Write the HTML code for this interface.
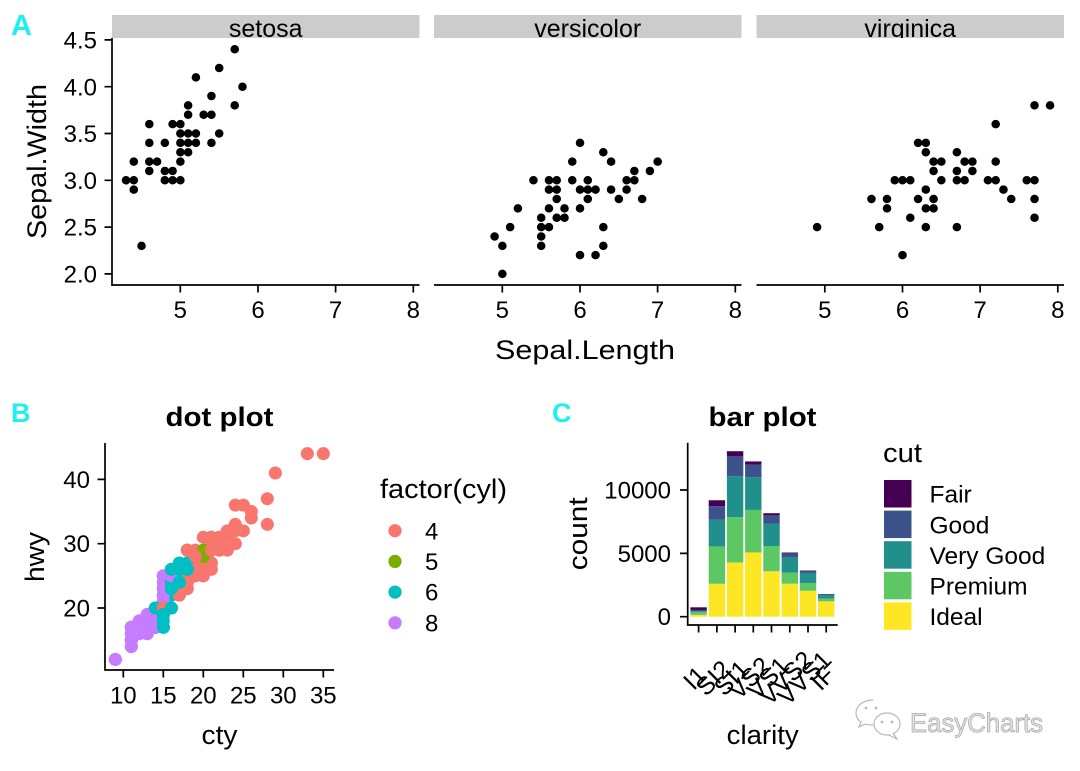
<!DOCTYPE html>
<html><head><meta charset="utf-8"><style>
html,body{margin:0;padding:0;background:#fff;}
svg{display:block;font-family:"Liberation Sans",Arial,sans-serif;}
</style></head><body>
<svg width="1080" height="771" viewBox="0 0 1080 771" xmlns="http://www.w3.org/2000/svg">
<rect width="1080" height="771" fill="#fff"/>
<defs>
<clipPath id="c1"><rect x="112" y="15" width="307.5" height="23"/></clipPath>
<clipPath id="c2"><rect x="434" y="15" width="307.5" height="23"/></clipPath>
<clipPath id="c3"><rect x="756.5" y="15" width="307.5" height="23"/></clipPath>
</defs>

<!-- ===== Panel A ===== -->
<text x="11" y="35" font-size="29" font-weight="bold" fill="#1EF0F0">A</text>
<rect x="112" y="15" width="307.5" height="23" fill="#cccccc"/>
<rect x="434" y="15" width="307.5" height="23" fill="#cccccc"/>
<rect x="756.5" y="15" width="307.5" height="23" fill="#cccccc"/>
<g font-size="25" text-anchor="middle" fill="#000">
<text x="265.75" y="37" clip-path="url(#c1)">setosa</text>
<text x="587.75" y="37" clip-path="url(#c2)">versicolor</text>
<text x="910.25" y="37" clip-path="url(#c3)">virginica</text>
</g>

<g fill="none" stroke="#000" stroke-width="8.5" stroke-linecap="round">
<path vector-effect="non-scaling-stroke" transform="matrix(77.65 0 0 -93.6 -207.92 461.1)" d="M5.1 3.5h.001M4.9 3h.001M4.7 3.2h.001M4.6 3.1h.001M5 3.6h.001M5.4 3.9h.001M4.6 3.4h.001M5 3.4h.001M4.4 2.9h.001M4.9 3.1h.001M5.4 3.7h.001M4.8 3.4h.001M4.8 3h.001M4.3 3h.001M5.8 4h.001M5.7 4.4h.001M5.7 3.8h.001M5.1 3.8h.001M5.4 3.4h.001M5.1 3.7h.001M4.6 3.6h.001M5.1 3.3h.001M5 3h.001M5.2 3.5h.001M5.2 3.4h.001M4.8 3.1h.001M5.2 4.1h.001M5.5 4.2h.001M5 3.2h.001M5.5 3.5h.001M4.9 3.6h.001M4.4 3h.001M5.1 3.4h.001M5 3.5h.001M4.5 2.3h.001M4.4 3.2h.001M4.6 3.2h.001M5.3 3.7h.001M5 3.3h.001"/>
<path vector-effect="non-scaling-stroke" transform="matrix(77.65 0 0 -93.6 114.08 461.1)" d="M7 3.2h.001M6.4 3.2h.001M6.9 3.1h.001M5.5 2.3h.001M6.5 2.8h.001M5.7 2.8h.001M6.3 3.3h.001M4.9 2.4h.001M6.6 2.9h.001M5.2 2.7h.001M5 2h.001M5.9 3h.001M6 2.2h.001M6.1 2.9h.001M5.6 2.9h.001M6.7 3.1h.001M5.6 3h.001M5.8 2.7h.001M6.2 2.2h.001M5.6 2.5h.001M5.9 3.2h.001M6.1 2.8h.001M6.3 2.5h.001M6.4 2.9h.001M6.6 3h.001M6.8 2.8h.001M6.7 3h.001M6 2.9h.001M5.7 2.6h.001M5.5 2.4h.001M6 2.7h.001M5.4 3h.001M6 3.4h.001M6.3 2.3h.001M5.5 2.5h.001M5.5 2.6h.001M6.1 3h.001M5.8 2.6h.001M5 2.3h.001M5.6 2.7h.001M5.7 3h.001M5.7 2.9h.001M6.2 2.9h.001M5.1 2.5h.001"/>
<path vector-effect="non-scaling-stroke" transform="matrix(77.65 0 0 -93.6 436.58 461.1)" d="M6.3 3.3h.001M5.8 2.7h.001M7.1 3h.001M6.3 2.9h.001M6.5 3h.001M7.6 3h.001M4.9 2.5h.001M7.3 2.9h.001M6.7 2.5h.001M7.2 3.6h.001M6.5 3.2h.001M6.4 2.7h.001M6.8 3h.001M5.7 2.5h.001M5.8 2.8h.001M6.4 3.2h.001M7.7 3.8h.001M7.7 2.6h.001M6 2.2h.001M6.9 3.2h.001M5.6 2.8h.001M7.7 2.8h.001M6.3 2.7h.001M6.7 3.3h.001M7.2 3.2h.001M6.2 2.8h.001M6.1 3h.001M6.4 2.8h.001M7.2 3h.001M7.4 2.8h.001M7.9 3.8h.001M6.1 2.6h.001M7.7 3h.001M6.3 3.4h.001M6.4 3.1h.001M6 3h.001M6.9 3.1h.001M6.7 3.1h.001M6.8 3.2h.001M6.7 3h.001M6.3 2.5h.001M6.2 3.4h.001M5.9 3h.001"/>
</g>

<g stroke="#000" stroke-width="1.7" fill="none">
<path d="M112 38V286M111.2 285H419.5M434 285H741.5M756.5 285H1064"/>
<path d="M104.5 39.9H112M104.5 86.7H112M104.5 133.5H112M104.5 180.3H112M104.5 227.1H112M104.5 273.9H112"/>
<path d="M180.3 285V292.5M258 285V292.5M335.6 285V292.5M413.3 285V292.5M502.3 285V292.5M580 285V292.5M657.6 285V292.5M735.3 285V292.5M824.8 285V292.5M902.5 285V292.5M980.1 285V292.5M1057.8 285V292.5"/>
</g>
<g font-size="24" text-anchor="end" fill="#000">
<text x="97" y="48.5">4.5</text>
<text x="97" y="95.3">4.0</text>
<text x="97" y="142.1">3.5</text>
<text x="97" y="188.9">3.0</text>
<text x="97" y="235.7">2.5</text>
<text x="97" y="282.5">2.0</text>
</g>
<g font-size="24" text-anchor="middle" fill="#000">
<text x="180.3" y="318">5</text><text x="258" y="318">6</text><text x="335.6" y="318">7</text><text x="413.3" y="318">8</text>
<text x="502.3" y="318">5</text><text x="580" y="318">6</text><text x="657.6" y="318">7</text><text x="735.3" y="318">8</text>
<text x="824.8" y="318">5</text><text x="902.5" y="318">6</text><text x="980.1" y="318">7</text><text x="1057.8" y="318">8</text>
</g>
<text transform="translate(46,161.5) rotate(-90)" font-size="27" text-anchor="middle" textLength="155" lengthAdjust="spacingAndGlyphs">Sepal.Width</text>
<text x="585" y="359" font-size="27" text-anchor="middle" textLength="180" lengthAdjust="spacingAndGlyphs">Sepal.Length</text>

<!-- ===== Panel B ===== -->
<text x="11" y="422" font-size="27" font-weight="bold" fill="#1EF0F0">B</text>
<text x="219.5" y="426" font-size="27" font-weight="bold" text-anchor="middle" textLength="108" lengthAdjust="spacingAndGlyphs">dot plot</text>

<g fill="none" stroke-width="13" stroke-linecap="round">
<g transform="matrix(8 0 0 -6.43 43.3 736.6)">
<path vector-effect="non-scaling-stroke" stroke="#F8766D" d="M18 29h.01M21 29h.01M20 31h.01M21 30h.01"/>
<path vector-effect="non-scaling-stroke" stroke="#00BFC4" d="M16 26h.01M18 26h.01M18 27h.01"/>
<path vector-effect="non-scaling-stroke" stroke="#F8766D" d="M18 26h.01M16 25h.01M20 28h.01M19 27h.01"/>
<path vector-effect="non-scaling-stroke" stroke="#00BFC4" d="M15 25h.01M17 25h.01M15 24h.01"/>
<path vector-effect="non-scaling-stroke" stroke="#C77CFF" d="M16 23h.01M14 20h.01M11 15h.01M13 17h.01M12 17h.01M16 26h.01M15 23h.01M15 25h.01M15 24h.01M14 19h.01M11 14h.01M14 17h.01"/>
<path vector-effect="non-scaling-stroke" stroke="#F8766D" d="M19 27h.01M22 30h.01"/>
<path vector-effect="non-scaling-stroke" stroke="#00BFC4" d="M18 26h.01M18 29h.01M17 26h.01"/>
<path vector-effect="non-scaling-stroke" stroke="#F8766D" d="M18 24h.01"/>
<path vector-effect="non-scaling-stroke" stroke="#00BFC4" d="M17 24h.01M16 22h.01M11 17h.01M15 22h.01M15 21h.01M16 23h.01M15 19h.01M14 18h.01M13 17h.01M14 17h.01"/>
<path vector-effect="non-scaling-stroke" stroke="#C77CFF" d="M14 19h.01M9 12h.01M11 17h.01M11 15h.01"/>
<path vector-effect="non-scaling-stroke" stroke="#00BFC4" d="M13 17h.01"/>
<path vector-effect="non-scaling-stroke" stroke="#C77CFF" d="M13 17h.01M9 12h.01M11 16h.01M13 18h.01M11 15h.01M12 16h.01M12 18h.01M11 17h.01"/>
<path vector-effect="non-scaling-stroke" stroke="#00BFC4" d="M14 17h.01M15 19h.01"/>
<path vector-effect="non-scaling-stroke" stroke="#C77CFF" d="M13 19h.01M13 17h.01M13 16h.01M11 15h.01"/>
<path vector-effect="non-scaling-stroke" stroke="#00BFC4" d="M18 26h.01M18 25h.01M17 26h.01M16 24h.01"/>
<path vector-effect="non-scaling-stroke" stroke="#C77CFF" d="M15 21h.01M15 22h.01M15 23h.01M14 20h.01"/>
<path vector-effect="non-scaling-stroke" stroke="#F8766D" d="M28 33h.01M24 32h.01M25 32h.01M23 29h.01M26 34h.01M25 36h.01M24 36h.01M21 29h.01M18 26h.01M18 27h.01M21 30h.01M21 31h.01"/>
<path vector-effect="non-scaling-stroke" stroke="#00BFC4" d="M18 26h.01M19 28h.01"/>
<path vector-effect="non-scaling-stroke" stroke="#F8766D" d="M19 26h.01M19 29h.01M20 28h.01"/>
<path vector-effect="non-scaling-stroke" stroke="#00BFC4" d="M17 24h.01M16 24h.01M17 22h.01M15 19h.01M15 20h.01"/>
<path vector-effect="non-scaling-stroke" stroke="#C77CFF" d="M14 17h.01M9 12h.01M14 19h.01M13 18h.01M11 14h.01M11 15h.01M12 18h.01M11 17h.01M11 16h.01"/>
<path vector-effect="non-scaling-stroke" stroke="#00BFC4" d="M14 17h.01M15 19h.01"/>
<path vector-effect="non-scaling-stroke" stroke="#C77CFF" d="M13 19h.01M13 17h.01"/>
<path vector-effect="non-scaling-stroke" stroke="#F8766D" d="M21 29h.01M19 27h.01M23 31h.01M23 32h.01"/>
<path vector-effect="non-scaling-stroke" stroke="#00BFC4" d="M19 27h.01M19 26h.01M18 26h.01M19 25h.01M14 17h.01M15 17h.01M14 20h.01"/>
<path vector-effect="non-scaling-stroke" stroke="#C77CFF" d="M12 18h.01"/>
<path vector-effect="non-scaling-stroke" stroke="#00BFC4" d="M18 26h.01M16 26h.01M17 27h.01"/>
<path vector-effect="non-scaling-stroke" stroke="#C77CFF" d="M16 25h.01"/>
<path vector-effect="non-scaling-stroke" stroke="#F8766D" d="M18 25h.01M18 24h.01M20 27h.01M19 25h.01M20 26h.01M18 23h.01M21 26h.01M19 26h.01M20 25h.01M15 20h.01M16 20h.01"/>
<path vector-effect="non-scaling-stroke" stroke="#00BFC4" d="M15 19h.01M15 17h.01M16 20h.01"/>
<path vector-effect="non-scaling-stroke" stroke="#C77CFF" d="M14 17h.01"/>
<path vector-effect="non-scaling-stroke" stroke="#F8766D" d="M21 29h.01M21 27h.01M21 31h.01"/>
<path vector-effect="non-scaling-stroke" stroke="#00BFC4" d="M18 26h.01M19 28h.01"/>
<path vector-effect="non-scaling-stroke" stroke="#F8766D" d="M21 27h.01M21 29h.01M21 31h.01M22 31h.01"/>
<path vector-effect="non-scaling-stroke" stroke="#00BFC4" d="M18 26h.01M18 27h.01"/>
<path vector-effect="non-scaling-stroke" stroke="#F8766D" d="M24 30h.01M24 33h.01M26 35h.01M28 37h.01"/>
<path vector-effect="non-scaling-stroke" stroke="#C77CFF" d="M11 15h.01M13 18h.01"/>
<path vector-effect="non-scaling-stroke" stroke="#F8766D" d="M15 20h.01M16 20h.01M17 22h.01"/>
<path vector-effect="non-scaling-stroke" stroke="#00BFC4" d="M15 17h.01M15 19h.01M15 18h.01M16 20h.01"/>
<path vector-effect="non-scaling-stroke" stroke="#F8766D" d="M21 29h.01M19 26h.01M22 29h.01"/>
<path vector-effect="non-scaling-stroke" stroke="#00BFC4" d="M17 24h.01"/>
<path vector-effect="non-scaling-stroke" stroke="#F8766D" d="M33 44h.01M21 29h.01M19 26h.01M22 29h.01"/>
<path vector-effect="non-scaling-stroke" stroke="#7CAE00" d="M21 29h.01"/>
<path vector-effect="non-scaling-stroke" stroke="#00BFC4" d="M16 23h.01M17 24h.01"/>
<path vector-effect="non-scaling-stroke" stroke="#F8766D" d="M35 44h.01M29 41h.01M19 26h.01"/>
<path vector-effect="non-scaling-stroke" stroke="#7CAE00" d="M20 28h.01M20 29h.01"/>
<path vector-effect="non-scaling-stroke" stroke="#F8766D" d="M21 29h.01M18 29h.01M19 28h.01"/>
<path vector-effect="non-scaling-stroke" stroke="#00BFC4" d="M16 26h.01M18 26h.01M17 26h.01"/>
</g>
</g>

<g stroke="#000" stroke-width="1.7" fill="none">
<path d="M105 443V670.8M104.2 670H334"/>
<path d="M97.5 608H105M97.5 543.7H105M97.5 479.4H105"/>
<path d="M123.3 670V677.5M163.3 670V677.5M203.3 670V677.5M243.3 670V677.5M283.3 670V677.5M323.3 670V677.5"/>
</g>
<g font-size="24" text-anchor="end">
<text x="90" y="616.5">20</text>
<text x="90" y="552.2">30</text>
<text x="90" y="487.9">40</text>
</g>
<g font-size="24" text-anchor="middle">
<text x="123.3" y="703.5">10</text><text x="163.3" y="703.5">15</text><text x="203.3" y="703.5">20</text>
<text x="243.3" y="703.5">25</text><text x="283.3" y="703.5">30</text><text x="323.3" y="703.5">35</text>
</g>
<text x="219.5" y="744" font-size="27" text-anchor="middle" textLength="36" lengthAdjust="spacingAndGlyphs">cty</text>
<text transform="translate(44,557) rotate(-90)" font-size="27" text-anchor="middle" textLength="50" lengthAdjust="spacingAndGlyphs">hwy</text>

<text x="380" y="498" font-size="27" textLength="127" lengthAdjust="spacingAndGlyphs">factor(cyl)</text>
<circle cx="395" cy="530.7" r="6.6" fill="#F8766D"/>
<circle cx="395" cy="561.4" r="6.6" fill="#7CAE00"/>
<circle cx="395" cy="592.1" r="6.6" fill="#00BFC4"/>
<circle cx="395" cy="622.8" r="6.6" fill="#C77CFF"/>
<g font-size="24">
<text x="425" y="539.3">4</text>
<text x="425" y="570">5</text>
<text x="425" y="600.7">6</text>
<text x="425" y="631.4">8</text>
</g>

<!-- ===== Panel C ===== -->
<text x="552" y="422" font-size="27" font-weight="bold" fill="#1EF0F0">C</text>
<text x="762.5" y="426" font-size="27" font-weight="bold" text-anchor="middle" textLength="108" lengthAdjust="spacingAndGlyphs">bar plot</text>

<g>
<rect x="690.4" y="614.85" width="16.4" height="1.85" fill="#FDE725"/>
<rect x="690.4" y="612.25" width="16.4" height="2.6" fill="#5DC863"/>
<rect x="690.4" y="611.19" width="16.4" height="1.06" fill="#21908C"/>
<rect x="690.4" y="609.97" width="16.4" height="1.22" fill="#3B528B"/>
<rect x="690.4" y="607.31" width="16.4" height="2.66" fill="#440154"/>
<rect x="708.7" y="583.79" width="16.4" height="32.91" fill="#FDE725"/>
<rect x="708.7" y="546.44" width="16.4" height="37.35" fill="#5DC863"/>
<rect x="708.7" y="519.84" width="16.4" height="26.6" fill="#21908C"/>
<rect x="708.7" y="506.15" width="16.4" height="13.69" fill="#3B528B"/>
<rect x="708.7" y="500.25" width="16.4" height="5.9" fill="#440154"/>
<rect x="726.9" y="562.46" width="16.4" height="54.24" fill="#FDE725"/>
<rect x="726.9" y="517.18" width="16.4" height="45.28" fill="#5DC863"/>
<rect x="726.9" y="476.14" width="16.4" height="41.04" fill="#21908C"/>
<rect x="726.9" y="456.38" width="16.4" height="19.76" fill="#3B528B"/>
<rect x="726.9" y="451.21" width="16.4" height="5.17" fill="#440154"/>
<rect x="745.1" y="552.47" width="16.4" height="64.23" fill="#FDE725"/>
<rect x="745.1" y="509.95" width="16.4" height="42.52" fill="#5DC863"/>
<rect x="745.1" y="477.13" width="16.4" height="32.82" fill="#21908C"/>
<rect x="745.1" y="464.74" width="16.4" height="12.39" fill="#3B528B"/>
<rect x="745.1" y="461.43" width="16.4" height="3.31" fill="#440154"/>
<rect x="763.3" y="571.24" width="16.4" height="45.46" fill="#FDE725"/>
<rect x="763.3" y="546.05" width="16.4" height="25.19" fill="#5DC863"/>
<rect x="763.3" y="523.57" width="16.4" height="22.48" fill="#21908C"/>
<rect x="763.3" y="515.36" width="16.4" height="8.21" fill="#3B528B"/>
<rect x="763.3" y="513.21" width="16.4" height="2.15" fill="#440154"/>
<rect x="781.6" y="583.69" width="16.4" height="33.01" fill="#FDE725"/>
<rect x="781.6" y="572.67" width="16.4" height="11.02" fill="#5DC863"/>
<rect x="781.6" y="557.03" width="16.4" height="15.64" fill="#21908C"/>
<rect x="781.6" y="553.41" width="16.4" height="3.62" fill="#3B528B"/>
<rect x="781.6" y="552.54" width="16.4" height="0.87" fill="#440154"/>
<rect x="799.8" y="590.77" width="16.4" height="25.93" fill="#FDE725"/>
<rect x="799.8" y="582.97" width="16.4" height="7.8" fill="#5DC863"/>
<rect x="799.8" y="572.98" width="16.4" height="9.99" fill="#21908C"/>
<rect x="799.8" y="570.62" width="16.4" height="2.36" fill="#3B528B"/>
<rect x="799.8" y="570.4" width="16.4" height="0.3" fill="#440154"/>
<rect x="818" y="601.35" width="16.4" height="15.35" fill="#FDE725"/>
<rect x="818" y="598.44" width="16.4" height="2.91" fill="#5DC863"/>
<rect x="818" y="595.05" width="16.4" height="3.39" fill="#21908C"/>
<rect x="818" y="594.15" width="16.4" height="0.9" fill="#3B528B"/>
<rect x="818" y="594.0" width="16.4" height="0.2" fill="#440154"/>
</g>

<g stroke="#000" stroke-width="1.7" fill="none">
<path d="M687.7 442.7V625.8M686.9 625H837.7"/>
<path d="M680 616.7H687.7M680 553.4H687.7M680 490H687.7"/>
<path d="M698.6 625V632.5M716.9 625V632.5M735.1 625V632.5M753.3 625V632.5M771.5 625V632.5M789.8 625V632.5M808 625V632.5M826.2 625V632.5"/>
</g>
<g font-size="24" text-anchor="end">
<text x="671" y="625.2">0</text>
<text x="671" y="561.9">5000</text>
<text x="671" y="498.5">10000</text>
</g>
<g font-size="25" text-anchor="middle">
<text transform="translate(701,684) rotate(-45)">I1</text>
<text transform="translate(719.3,684) rotate(-45)">SI2</text>
<text transform="translate(737.5,684) rotate(-45)">SI1</text>
<text transform="translate(755.7,684) rotate(-45)">VS2</text>
<text transform="translate(773.9,684) rotate(-45)">VS1</text>
<text transform="translate(792.2,684) rotate(-45)">VVS2</text>
<text transform="translate(810.4,684) rotate(-45)">VVS1</text>
<text transform="translate(828.6,684) rotate(-45)">IF</text>
</g>
<text x="762.7" y="744" font-size="27" text-anchor="middle" textLength="72" lengthAdjust="spacingAndGlyphs">clarity</text>
<text transform="translate(587,533.8) rotate(-90)" font-size="27" text-anchor="middle" textLength="73" lengthAdjust="spacingAndGlyphs">count</text>

<text x="883" y="462" font-size="27" textLength="39" lengthAdjust="spacingAndGlyphs">cut</text>
<rect x="884" y="480" width="27.5" height="27.5" fill="#440154"/>
<rect x="884" y="510.6" width="27.5" height="27.5" fill="#3B528B"/>
<rect x="884" y="541.2" width="27.5" height="27.5" fill="#21908C"/>
<rect x="884" y="571.8" width="27.5" height="27.5" fill="#5DC863"/>
<rect x="884" y="602.4" width="27.5" height="27.5" fill="#FDE725"/>
<g font-size="24.5">
<text x="929.5" y="502.7">Fair</text>
<text x="929.5" y="533.3">Good</text>
<text x="929.5" y="563.9">Very Good</text>
<text x="929.5" y="594.5">Premium</text>
<text x="929.5" y="625.1">Ideal</text>
</g>

<!-- watermark -->
<g fill="#fff" stroke="#b8b8b8" stroke-width="1.2">
<path d="M873 700c-10 0-17 6-17 13 0 4 2 7 5 9l-2 5 6-3c2 1 5 1 8 1"/>
<ellipse cx="887" cy="724" rx="13" ry="11"/>
<path d="M893 733l4 6-8-4"/>
</g>
<g fill="#b8b8b8">
<circle cx="866" cy="708" r="1.4"/><circle cx="876" cy="708" r="1.4"/>
<circle cx="882" cy="722" r="1.4"/><circle cx="892" cy="722" r="1.4"/>
</g>
<text x="910" y="732" font-size="27" fill="#e4e4e4" stroke="#aaaaaa" stroke-width="0.8" textLength="133" lengthAdjust="spacingAndGlyphs">EasyCharts</text>
</svg>
</body></html>
